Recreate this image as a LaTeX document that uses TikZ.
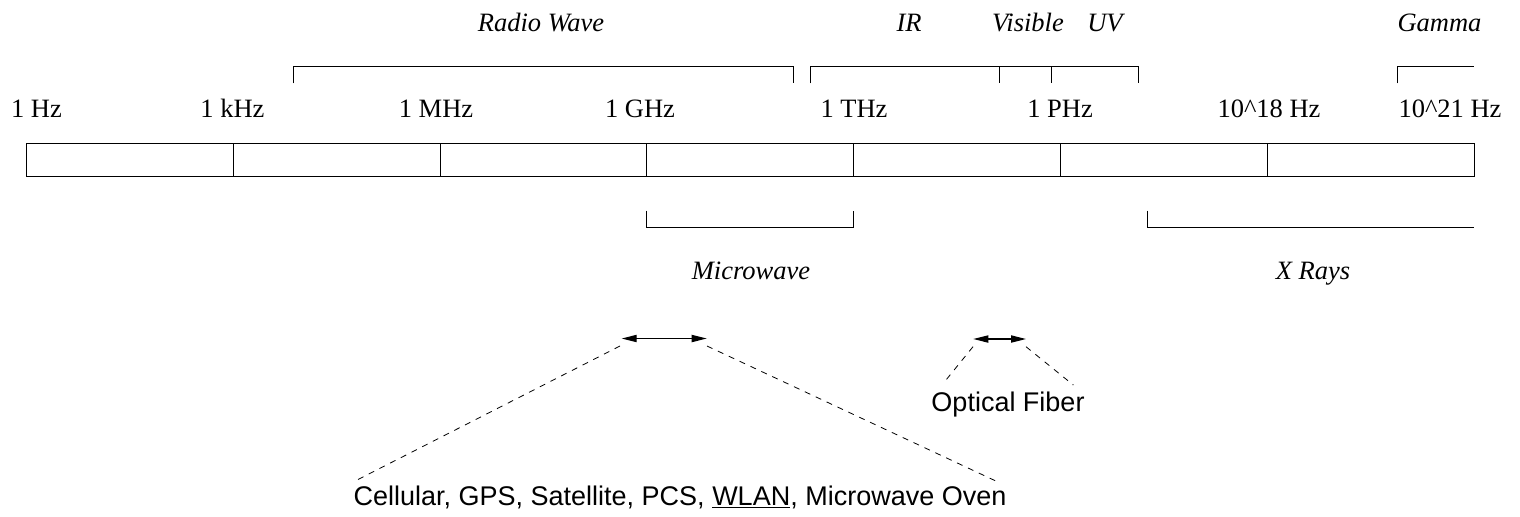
\documentclass[tikz,border=0pt]{standalone}
\usepackage{fontspec}
\setmainfont{Liberation Serif}
\setsansfont{Liberation Sans}
\usetikzlibrary{arrows.meta}
\begin{document}
\begin{tikzpicture}[x=0.5pt,y=-0.5pt, line width=0.5pt,
  lbl/.style={anchor=base, inner sep=0pt, font=\fontsize{13.25}{16}\selectfont},
  band/.style={anchor=base, inner sep=0pt, font=\fontsize{13.25}{16}\selectfont\itshape},
  app/.style={anchor=base, inner sep=0pt, font=\fontsize{13.5}{16}\selectfont\sffamily},
  rng/.style={{Triangle[length=7.5pt,width=3.6pt]}-{Triangle[length=7.5pt,width=3.6pt]}, line width=0.6pt},
  lead/.style={dash pattern=on 3pt off 3pt, line width=0.4pt}]
\useasboundingbox (0,0) rectangle (1520,516);

% spectrum bar
\draw (26,143) rectangle (1474,176);
\foreach \x in {233,440,646.5,853,1060,1267} \draw (\x,143) -- (\x,176);

% frequency labels
\node[lbl] (f1) at (36.5,117.3) {1 Hz};
\node[lbl] (f2) at (232.5,117.3) {1 kHz};
\node[lbl] (f3) at (436,117.3) {1 MHz};
\node[lbl] (f4) at (640,117.3) {1 GHz};
\node[lbl] (f5) at (854,117.3) {1 THz};
\node[lbl] (f6) at (1060,117.3) {1 PHz};
\node[lbl] (f7) at (1269,117.3) {10\textasciicircum 18 Hz};
\node[lbl] (f8) at (1450,117.3) {10\textasciicircum 21 Hz};

% top brackets
\draw (293,83.3) -- (293,66.7) -- (793,66.7) -- (793,83.3);
\draw (810,83.3) -- (810,66.7) -- (1138,66.7) -- (1138,83.3);
\draw (999.5,66.7) -- (999.5,83.3);
\draw (1051.5,66.7) -- (1051.5,83.3);
\draw (1397,83.3) -- (1397,66.7) -- (1474,66.7);

\node[band] (radio) at (541,31.7) {Radio Wave};
\node[band] (ir) at (909,31.7) {IR};
\node[band] (vis) at (1028,31.7) {Visible};
\node[band] (uv) at (1105,31.7) {UV};
\node[band] (gamma) at (1439.5,31.7) {Gamma};

% bottom brackets
\draw (646.5,210.7) -- (646.5,227.7) -- (853,227.7) -- (853,210.7);
\draw (1147,210.7) -- (1147,227.7) -- (1474,227.7);
\node[band] (micro) at (751,279.3) {Microwave};
\node[band] (xray) at (1313,279.3) {X Rays};

% microwave range
\coordinate (mwL) at (621.7,338.5);
\coordinate (mwR) at (706.7,338.5);
\draw[rng] (mwL) -- (mwR);
\coordinate (mwLa) at (620,346);
\coordinate (mwRa) at (707,346);
\coordinate (mwLb) at (357,480);
\coordinate (mwRb) at (998,482);
\draw[lead] (mwLa) -- (mwLb);
\draw[lead] (mwRa) -- (mwRb);
\node[app] (apps) at (680,505) {Cellular, GPS, Satellite, PCS, \underline{WLAN}, Microwave Oven};

% optical fiber range
\coordinate (ofL) at (973.3,339);
\coordinate (ofR) at (1026,339);
\draw[rng] (ofL) -- (ofR);
\coordinate (ofLa) at (973,346.7);
\coordinate (ofRa) at (1026,346.7);
\coordinate (ofLb) at (943.3,383.3);
\coordinate (ofRb) at (1073.3,385);
\draw[lead] (ofLa) -- (ofLb);
\draw[lead] (ofRa) -- (ofRb);
\node[app] (fiber) at (1008,411.7) {Optical Fiber};
\end{tikzpicture}
\end{document}
